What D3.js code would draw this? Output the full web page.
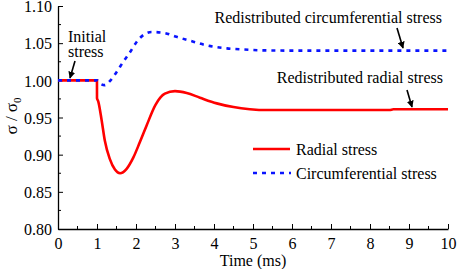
<!DOCTYPE html>
<html>
<head>
<meta charset="utf-8">
<script src="https://cdn.jsdelivr.net/npm/d3@7"></script>
<style>
  body { margin: 0; background: #fff; }
</style>
</head>
<body>
<svg id="chart" width="457" height="269"></svg>
<script>
const FONT = "Liberation Serif";

// time (ms) and normalized stress
const radialT = [0, 0.999, 1.0, 1.03, 1.12, 1.2, 1.33, 1.46, 1.59, 1.76, 1.93, 2.1, 2.27, 2.5, 2.74, 3.0, 3.3, 3.64, 4.07, 4.5, 4.92, 5.35, 6.0, 7.0, 8.5, 8.6, 10];
const radialV = [1.0, 1.0, 0.976, 0.972, 0.946, 0.919, 0.894, 0.880, 0.875, 0.881, 0.896, 0.917, 0.939, 0.967, 0.982, 0.9855, 0.983, 0.9766, 0.969, 0.964, 0.9612, 0.960, 0.960, 0.960, 0.960, 0.961, 0.961];

const circT = [0, 1.0, 1.08, 1.2, 1.33, 1.5, 1.67, 1.85, 2.02, 2.19, 2.4, 2.7, 3.04, 3.47, 3.81, 4.33, 4.75, 5.3, 6, 10];
const circV = [1.0, 1.0, 0.9955, 0.9935, 0.999, 1.011, 1.0247, 1.038, 1.052, 1.061, 1.065, 1.064, 1.0585, 1.052, 1.047, 1.043, 1.0415, 1.0403, 1.04, 1.04];

const xTicks = [0, 1, 2, 3, 4, 5, 6, 7, 8, 9, 10];
const yTicks = [0.80, 0.85, 0.90, 0.95, 1.00, 1.05, 1.10];

const svg = d3.select("#chart").attr("font-family", FONT);
const x = d3.scaleLinear().domain([0, 10]).range([58, 448]);
const y = d3.scaleLinear().domain([0.80, 1.10]).range([229, 6]);

// arrow head
svg.append("defs").append("marker")
  .attr("id", "arr")
  .attr("viewBox", "0 0 10 10")
  .attr("refX", 9).attr("refY", 5)
  .attr("markerWidth", 7).attr("markerHeight", 7)
  .attr("markerUnits", "userSpaceOnUse")
  .attr("orient", "auto")
  .append("path")
  .attr("d", "M0,0 L10,5 L0,10 Z")
  .attr("fill", "#000");

// axes (ticks inside)
const xAxis = svg.append("g")
  .attr("transform", `translate(0,${y(0.80)})`)
  .call(d3.axisBottom(x).tickValues(xTicks).tickFormat(d3.format("d")).tickSizeInner(-5).tickSizeOuter(0).tickPadding(9));
xAxis.append("g").selectAll("line")
  .data(d3.range(0.5, 10, 1))
  .enter().append("line")
  .attr("x1", d => x(d)).attr("x2", d => x(d))
  .attr("y1", 0).attr("y2", -3)
  .attr("stroke", "#000");

const yAxis = svg.append("g")
  .attr("transform", `translate(${x(0)},0)`)
  .call(d3.axisLeft(y).tickValues(yTicks).tickFormat(d3.format(".2f")).tickSizeInner(-5).tickSizeOuter(0).tickPadding(6));
yAxis.append("g").selectAll("line")
  .data(d3.range(0.825, 1.10, 0.05))
  .enter().append("line")
  .attr("y1", d => y(d)).attr("y2", d => y(d))
  .attr("x1", 0).attr("x2", 3)
  .attr("stroke", "#000");

svg.selectAll("g").attr("font-family", FONT);
svg.selectAll(".domain").attr("stroke", "#000").attr("stroke-width", 1.3);
svg.selectAll(".tick line").attr("stroke", "#000");
svg.selectAll(".tick text")
  .attr("font-size", 16).attr("fill", "#000");
yAxis.selectAll(".tick text").attr("dy", "0.36em");

// axis titles
svg.append("text")
  .attr("x", 253).attr("y", 266)
  .attr("text-anchor", "middle").attr("font-size", 16)
  .text("Time (ms)");

const yl = svg.append("text")
  .attr("transform", "translate(17,116) rotate(-90)")
  .attr("text-anchor", "middle").attr("font-size", 17);
yl.append("tspan").text("σ / σ");
yl.append("tspan").attr("font-size", 11).attr("dy", 4).text("0");

// curves
const line = d3.line().x(d => x(d[0])).y(d => y(d[1])).curve(d3.curveMonotoneX);

svg.append("path")
  .datum(radialT.map((t, i) => [t, radialV[i]]))
  .attr("d", line)
  .attr("fill", "none")
  .attr("stroke", "#ff0000")
  .attr("stroke-width", 2.6);

svg.append("path")
  .datum(circT.map((t, i) => [t, circV[i]]))
  .attr("d", line)
  .attr("fill", "none")
  .attr("stroke", "#0a14ff")
  .attr("stroke-width", 2.6)
  .attr("stroke-dasharray", "4,5");

// legend
const lg = svg.append("g").attr("font-family", FONT);
lg.append("line").attr("x1", 253).attr("x2", 290).attr("y1", 149).attr("y2", 149)
  .attr("stroke", "#ff0000").attr("stroke-width", 2.6);
lg.append("text").attr("x", 296).attr("y", 155).attr("font-size", 16).text("Radial stress");
lg.append("line").attr("x1", 253).attr("x2", 291).attr("y1", 173).attr("y2", 173)
  .attr("stroke", "#0a14ff").attr("stroke-width", 2.6).attr("stroke-dasharray", "4,5");
lg.append("text").attr("x", 296).attr("y", 179).attr("font-size", 16).text("Circumferential stress");

// annotations
const notes = svg.append("g").attr("font-size", 16).attr("font-family", FONT);
notes.append("text").attr("x", 68).attr("y", 42).text("Initial");
notes.append("text").attr("x", 68).attr("y", 57).text("stress");
notes.append("text").attr("x", 442).attr("y", 23).attr("text-anchor", "end").text("Redistributed circumferential stress");
notes.append("text").attr("x", 443).attr("y", 83).attr("text-anchor", "end").text("Redistributed radial stress");

const arrows = [
  [75, 61, 70, 78],
  [397, 28, 403, 48],
  [407, 90, 412, 107]
];
svg.append("g").selectAll("line")
  .data(arrows)
  .enter().append("line")
  .attr("x1", d => d[0]).attr("y1", d => d[1])
  .attr("x2", d => d[2]).attr("y2", d => d[3])
  .attr("stroke", "#000").attr("stroke-width", 1.6)
  .attr("marker-end", "url(#arr)");
</script>
</body>
</html>
